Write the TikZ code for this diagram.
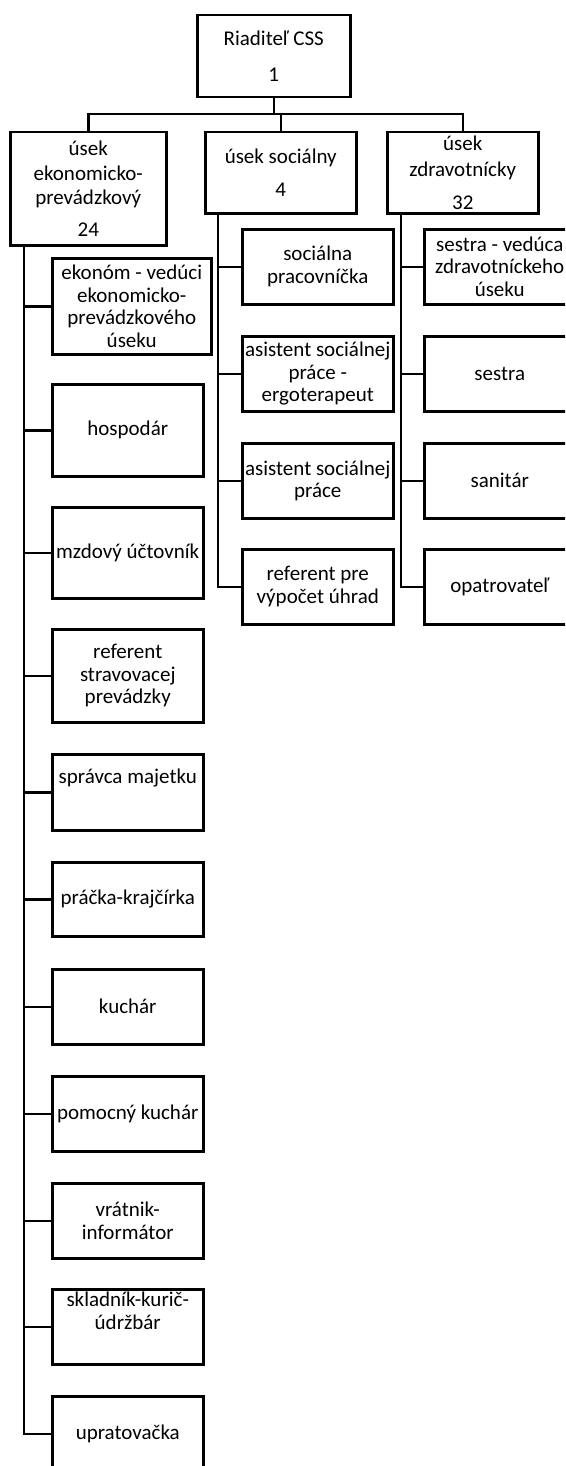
\documentclass[tikz,border=0pt]{standalone}
\usepackage{fontspec}
\setmainfont{Carlito}
\usepackage{tikz}

\begin{document}
\begin{tikzpicture}[x=1pt,y=-1pt,
  orgbox/.style={draw, line width=2.5pt, inner sep=0pt, align=center, anchor=north west,
    minimum width=151pt, minimum height=75pt, font=\fontsize{21}{22.7}\selectfont},
  orgline/.style={line width=2.5pt}]
\clip (0,0) rectangle (565,1466);
\node[orgbox, minimum width=153pt, minimum height=82pt] (riaditel) at (196,14) {Riaditeľ CSS\\[14pt]1};
\node[orgbox, minimum width=156pt, minimum height=113pt] (usekE) at (9,131) {úsek\\[2pt]ekonomicko-\\[2pt]prevádzkový\\[9pt]24};
\node[orgbox, minimum height=81pt] (usekS) at (204,131) {úsek sociálny\\[11pt]4};
\node[orgbox, minimum height=81pt] (usekZ) at (386,131) {úsek\\[4pt]zdravotnícky\\[10pt]32};
\coordinate (bus) at (0,114);
\draw[orgline] (riaditel.south) -- (riaditel.south |- bus);
\draw[orgline] (usekE.north) |- (bus -| usekZ.north) -- (usekZ.north);
\draw[orgline] (usekS.north) -- (usekS.north |- bus);
\node[orgbox, minimum width=159pt, minimum height=96pt] (e1) at (51,257) {ekonóm - vedúci\\ekonomicko-\\prevádzkového\\úseku};
\node[orgbox, minimum height=92pt] (e2) at (51,383) {hospodár};
\node[orgbox, minimum height=91pt] (e3) at (51,506) {mzdový účtovník};
\node[orgbox, minimum height=93pt] (e4) at (51,628) {referent\\stravovacej\\prevádzky};
\node[orgbox, minimum height=76pt] (e5) at (51,753) {správca majetku\\[10pt]\mbox{}};
\node[orgbox, minimum height=74pt] (e6) at (51,861) {práčka-krajčírka};
\node[orgbox] (e7) at (51,968) {kuchár};
\node[orgbox] (e8) at (51,1075) {pomocný kuchár};
\node[orgbox] (e9) at (51,1182) {vrátnik-\\informátor};
\node[orgbox] (e10) at (51,1288) {skladník-kurič-\\údržbár\\[10pt]\mbox{}};
\node[orgbox] (e11) at (51,1395) {upratovačka};
\node[orgbox] (s1) at (241,228) {sociálna\\pracovníčka};
\node[orgbox] (s2) at (241,335) {asistent sociálnej\\práce -\\ergoterapeut};
\node[orgbox] (s3) at (241,442) {asistent sociálnej\\práce};
\node[orgbox] (s4) at (241,548) {referent pre\\výpočet úhrad};
\node[orgbox] (z1) at (423,228) {sestra - vedúca\\zdravotníckeho\\úseku};
\node[orgbox] (z2) at (423,335) {sestra};
\node[orgbox] (z3) at (423,442) {sanitár};
\node[orgbox] (z4) at (423,548) {opatrovateľ};
\coordinate (trunkE) at (24,244);
\coordinate (trunkS) at (218,212);
\coordinate (trunkZ) at (401,212);
\draw[orgline] (trunkE) |- (e11.west);
\draw[orgline] (trunkS) |- (s4.west);
\draw[orgline] (trunkZ) |- (z4.west);
\foreach \n in {e1,e2,e3,e4,e5,e6,e7,e8,e9,e10}
  \draw[orgline] (\n.west) -- (\n.west -| trunkE);
\foreach \n in {s1,s2,s3}
  \draw[orgline] (\n.west) -- (\n.west -| trunkS);
\foreach \n in {z1,z2,z3}
  \draw[orgline] (\n.west) -- (\n.west -| trunkZ);
\end{tikzpicture}
\end{document}
